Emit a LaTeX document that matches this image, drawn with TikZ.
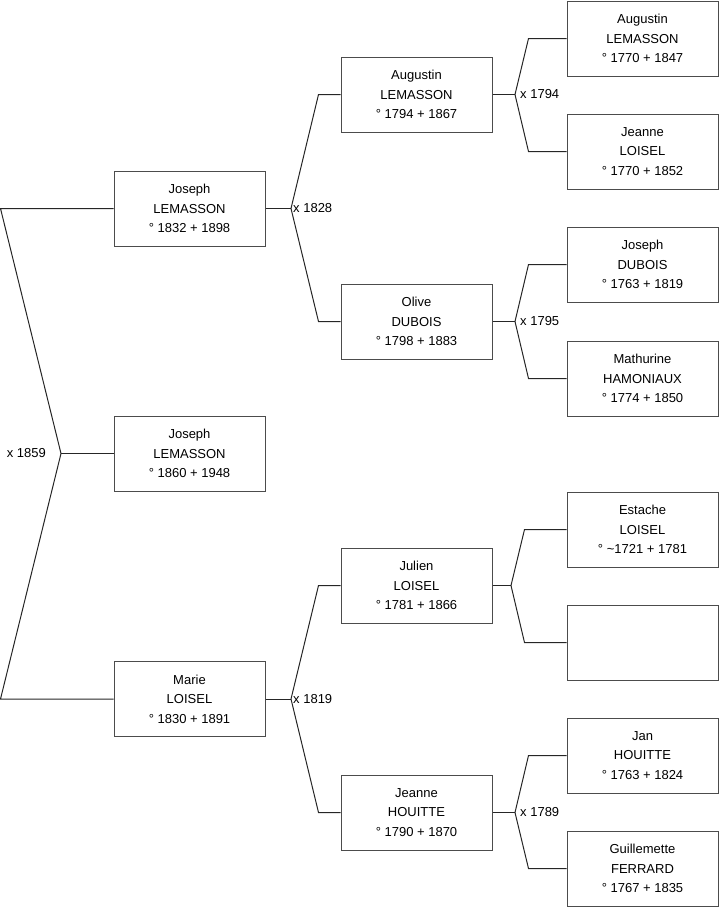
\documentclass[tikz,border=0pt]{standalone}
\usepackage{fontspec}
\setmainfont{Liberation Sans}
\begin{document}
\begin{tikzpicture}[x=1pt,y=-1pt,
 person/.style={draw=black!70, line width=1pt, minimum width=151pt, minimum height=75pt, inner sep=0pt, align=center, font=\fontsize{13}{19.5}\selectfont},
 link/.style={draw=black!85, line width=1pt},
 marr/.style={font=\fontsize{13}{15}\selectfont, inner sep=0pt}]
\useasboundingbox (0,0) rectangle (719,908);
% generation 1
\node[person] (a1) at (189.5,208.5) {Joseph\\LEMASSON\\° 1832 + 1898};
\node[person] (a0) at (189.5,453.5) {Joseph\\LEMASSON\\° 1860 + 1948};
\node[person] (a2) at (189.5,699) {Marie\\LOISEL\\° 1830 + 1891};
% generation 2
\node[person] (b1) at (416.5,94.5) {Augustin\\LEMASSON\\° 1794 + 1867};
\node[person] (b2) at (416.5,321.5) {Olive\\DUBOIS\\° 1798 + 1883};
\node[person] (b3) at (416.5,585.5) {Julien\\LOISEL\\° 1781 + 1866};
\node[person] (b4) at (416.5,812.5) {Jeanne\\HOUITTE\\° 1790 + 1870};
% generation 3
\node[person] (c1) at (642.5,38.5) {Augustin\\LEMASSON\\° 1770 + 1847};
\node[person] (c2) at (642.5,151.5) {Jeanne\\LOISEL\\° 1770 + 1852};
\node[person] (c3) at (642.5,264.5) {Joseph\\DUBOIS\\° 1763 + 1819};
\node[person] (c4) at (642.5,378.5) {Mathurine\\HAMONIAUX\\° 1774 + 1850};
\node[person] (c5) at (642.5,529.5) {Estache\\LOISEL\\° \textasciitilde 1721 + 1781};
\node[person] (c6) at (642.5,642.5) {};
\node[person] (c7) at (642.5,755.5) {Jan\\HOUITTE\\° 1763 + 1824};
\node[person] (c8) at (642.5,868.5) {Guillemette\\FERRARD\\° 1767 + 1835};
% junctions
\coordinate (j0) at (61,453.5);
\coordinate (j1) at (291,208.5);
\coordinate (j2) at (291,699);
\coordinate (j3) at (515,94.5);
\coordinate (j4) at (515,321.5);
\coordinate (j5) at (511,585.5);
\coordinate (j6) at (515,812.5);
% connectors
\draw[link] (a1.west) -- ([xshift=-113pt]a1.west) -- (j0) -- ([xshift=-113pt]a2.west) -- (a2.west);
\draw[link] (j0) -- (a0.west);
\draw[link] (a1.east) -- (j1);
\draw[link] (j1) -- ([xshift=-22pt]b1.west) -- (b1.west);
\draw[link] (j1) -- ([xshift=-22pt]b2.west) -- (b2.west);
\draw[link] (a2.east) -- (j2);
\draw[link] (j2) -- ([xshift=-22pt]b3.west) -- (b3.west);
\draw[link] (j2) -- ([xshift=-22pt]b4.west) -- (b4.west);
\draw[link] (b1.east) -- (j3);
\draw[link] (j3) -- ([xshift=-38pt]c1.west) -- (c1.west);
\draw[link] (j3) -- ([xshift=-38pt]c2.west) -- (c2.west);
\draw[link] (b2.east) -- (j4);
\draw[link] (j4) -- ([xshift=-38pt]c3.west) -- (c3.west);
\draw[link] (j4) -- ([xshift=-38pt]c4.west) -- (c4.west);
\draw[link] (b3.east) -- (j5);
\draw[link] (j5) -- ([xshift=-42pt]c5.west) -- (c5.west);
\draw[link] (j5) -- ([xshift=-42pt]c6.west) -- (c6.west);
\draw[link] (b4.east) -- (j6);
\draw[link] (j6) -- ([xshift=-38pt]c7.west) -- (c7.west);
\draw[link] (j6) -- ([xshift=-38pt]c8.west) -- (c8.west);
% marriage labels
\node[marr, anchor=east] (m0) at (46,453.5) {x 1859};
\node[marr, anchor=west] (m1) at (293,208.5) {x 1828};
\node[marr, anchor=west] (m2) at (293,699) {x 1819};
\node[marr, anchor=west] (m3) at (520,94.5) {x 1794};
\node[marr, anchor=west] (m4) at (520,321.5) {x 1795};
\node[marr, anchor=west] (m6) at (520,812.5) {x 1789};
\end{tikzpicture}
\end{document}
